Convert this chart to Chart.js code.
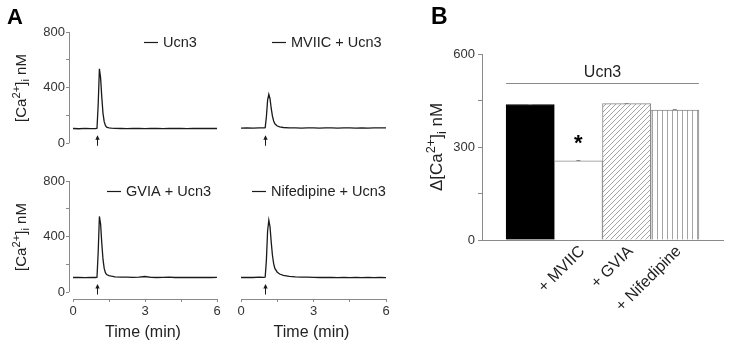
<!DOCTYPE html>
<html><head><meta charset="utf-8">
<script src="https://cdn.jsdelivr.net/npm/chart.js@4.4.0/dist/chart.umd.min.js"></script>
<style>
html,body{margin:0;padding:0;background:#fff;}
#wrap{position:relative;width:729px;height:346px;overflow:hidden;font-family:'Liberation Sans',Arial,sans-serif;}
canvas{position:absolute;left:0;top:0;}
.lbl{position:absolute;font-weight:bold;color:#000;line-height:1;}
.yt{position:absolute;white-space:nowrap;color:#222;transform:translate(-50%,-50%) rotate(-90deg);line-height:1;}
.yt sup{font-size:0.75em;vertical-align:0.5em;line-height:0;}
.yt sub{font-size:0.72em;vertical-align:-0.35em;line-height:0;}
</style></head>
<body><div id="wrap">
<canvas id="cTL" width="729" height="346"></canvas>
<canvas id="cTR" width="729" height="346"></canvas>
<canvas id="cBL" width="729" height="346"></canvas>
<canvas id="cBR" width="729" height="346"></canvas>
<canvas id="cB" width="729" height="346"></canvas>
<div class="lbl" style="left:7px;top:6px;font-size:22px;">A</div>
<div class="lbl" style="left:431px;top:5px;font-size:23px;">B</div>
<div class="yt" style="left:20px;top:88px;font-size:15px;">[Ca<sup>2+</sup>]<sub>i</sub> nM</div>
<div class="yt" style="left:20px;top:237px;font-size:15px;">[Ca<sup>2+</sup>]<sub>i</sub> nM</div>
<div class="yt" style="left:436px;top:147px;font-size:17px;">&Delta;[Ca<sup>2+</sup>]<sub>i</sub> nM</div>
</div>
<script>
// ---------- Panel A data (time in min, [Ca2+]i in nM) ----------
const timeMin = [0,0.25,0.5,0.75,0.95,1.0,1.05,1.1,1.15,1.2,1.25,1.3,1.35,1.4,1.5,1.6,1.75,2.0,2.25,2.5,2.75,3.0,3.25,3.5,3.75,4.0,4.25,4.5,4.75,5.0,5.25,5.5,5.75,6.0];
const traceUcn3 = [106,104,107,105,106,108,280,535,470,330,215,155,128,116,110,108,107,106,105,107,106,105,106,107,105,106,107,106,105,106,107,106,107,106];
const traceMVIIC = [108,110,109,111,110,112,190,310,352,320,250,195,160,140,124,117,113,111,110,109,111,110,109,110,111,109,110,111,109,110,109,111,110,111];
const traceGVIA = [105,106,104,106,105,107,290,545,490,350,235,170,140,126,118,114,110,108,107,106,107,112,106,105,106,107,105,106,105,106,105,106,105,106];
const traceNif = [105,106,105,107,106,108,230,440,518,470,360,265,205,170,143,130,120,113,110,108,107,106,105,106,105,104,105,104,105,104,105,104,105,104];
const seriesNames = ['Ucn3','MVIIC + Ucn3','GVIA + Ucn3','Nifedipine + Ucn3'];
const stimTime = 1.0;
const xTicksA = [0,1.5,3,4.5,6];
const xLabelsA = [0,3,6];
const yTicksA = [0,200,400,600,800];
const yLabelsA = [0,400,800];

// ---------- Panel B data ----------
const barCategories = ['', '+ MVIIC', '+ GVIA', '+ Nifedipine'];
const barValues = [437, 255, 440, 419];
const barErrors = [3, 3, 3, 3];
const barSignif = ['', '*', '', ''];
const groupLabel = 'Ucn3';
const yTicksB = [0,150,300,450,600];
const yLabelsB = [0,300,600];

Chart.defaults.font.family = "'Liberation Sans', Arial, sans-serif";
Chart.defaults.animation = false;
Chart.defaults.devicePixelRatio = 1;
Chart.defaults.plugins.legend.display = false;
Chart.defaults.plugins.tooltip.enabled = false;

const AXIS = '#8a8a8a', TXT = '#333', INK = '#1a1a1a';

const overlay = {
  id: 'overlay',
  afterDatasetsDraw(chart, args, o) {
    const ctx = chart.ctx, xs = chart.scales.x, ys = chart.scales.y, ca = chart.chartArea;
    ctx.save();
    ctx.strokeStyle = AXIS; ctx.lineWidth = 1;
    if (o.yAxis) {
      const x = Math.round(ca.left) + 0.5;
      ctx.beginPath(); ctx.moveTo(x, ys.getPixelForValue(yTicksA[yTicksA.length-1])); ctx.lineTo(x, ys.getPixelForValue(0)); ctx.stroke();
    }
    if (o.xAxis) {
      const y = Math.round(ca.bottom) + 0.5;
      ctx.beginPath(); ctx.moveTo(xs.getPixelForValue(0), y); ctx.lineTo(xs.getPixelForValue(6), y); ctx.stroke();
    }
    if (o.legend) {
      ctx.strokeStyle = INK; ctx.lineWidth = 1.2;
      ctx.beginPath(); ctx.moveTo(o.legend.x, o.legend.y); ctx.lineTo(o.legend.x + 14, o.legend.y); ctx.stroke();
      ctx.fillStyle = '#222'; ctx.font = "14.5px 'Liberation Sans', Arial, sans-serif";
      ctx.textBaseline = 'middle'; ctx.textAlign = 'left';
      ctx.fillText(chart.data.datasets[0].label, o.legend.x + 19, o.legend.y);
    }
    if (o.arrow) {
      const x = Math.round(xs.getPixelForValue(stimTime)) + 0.5;
      const yTip = ys.getPixelForValue(58), yTail = ys.getPixelForValue(-18);
      ctx.strokeStyle = INK; ctx.fillStyle = INK; ctx.lineWidth = 1;
      ctx.beginPath(); ctx.moveTo(x, yTail); ctx.lineTo(x, yTip + 3); ctx.stroke();
      ctx.beginPath(); ctx.moveTo(x, yTip); ctx.lineTo(x - 2.2, yTip + 4.5); ctx.lineTo(x + 2.2, yTip + 4.5); ctx.closePath(); ctx.fill();
    }
    if (o.bars) {
      ctx.strokeStyle = '#888'; ctx.lineWidth = 1;
      barValues.forEach((v, i) => {
        const x = xs.getPixelForValue(i + 1);
        const yT = Math.round(ys.getPixelForValue(v + barErrors[i])) + 0.5;
        const yB = ys.getPixelForValue(v);
        ctx.beginPath(); ctx.moveTo(x, yB); ctx.lineTo(x, yT); ctx.moveTo(x - 2, yT); ctx.lineTo(x + 2, yT); ctx.stroke();
        if (barSignif[i]) {
          ctx.fillStyle = '#000'; ctx.font = "bold 22px 'Liberation Sans', Arial, sans-serif";
          ctx.textAlign = 'center'; ctx.textBaseline = 'middle';
          ctx.fillText(barSignif[i], x, yB - 17);
        }
      });
      const xl = xs.getPixelForValue(0.5), xr = xs.getPixelForValue(barValues.length + 0.5);
      const yl = Math.round(ys.getPixelForValue(505)) + 0.5;
      ctx.strokeStyle = AXIS;
      ctx.beginPath(); ctx.moveTo(xl, yl); ctx.lineTo(xr, yl); ctx.stroke();
      ctx.fillStyle = '#222'; ctx.font = "16px 'Liberation Sans', Arial, sans-serif";
      ctx.textAlign = 'center'; ctx.textBaseline = 'middle';
      ctx.fillText(groupLabel, (xl + xr) / 2, ys.getPixelForValue(541));
    }
    ctx.restore();
  }
};

function traceChart(id, label, values, pad, opt) {
  const bottomRow = opt.bottom;
  return new Chart(document.getElementById(id), {
    type: 'line',
    data: { datasets: [{ label, data: timeMin.map((t, i) => ({ x: t, y: values[i] })),
      borderColor: INK, borderWidth: 1.3, pointRadius: 0, tension: 0, fill: false }] },
    options: {
      responsive: false, maintainAspectRatio: false,
      layout: { padding: pad },
      scales: {
        x: {
          type: 'linear', min: -0.1667, max: 6, display: bottomRow,
          grid: { display: true, drawOnChartArea: false, drawTicks: true, tickLength: 3, color: AXIS },
          border: { display: false },
          afterBuildTicks: s => { s.ticks = xTicksA.map(v => ({ value: v })); },
          afterFit: s => { if (s.options.display) s.height = 47; },
          ticks: { autoSkip: false, maxRotation: 0, padding: 2, color: TXT, font: { size: 13 },
            callback: v => xLabelsA.includes(v) ? String(v) : '' },
          title: { display: true, text: 'Time (min)', color: '#222', font: { size: 16 }, padding: { top: 2, bottom: 4 } }
        },
        y: {
          min: bottomRow ? -50 : -20, max: 800, display: opt.left,
          grid: { display: true, drawOnChartArea: false, drawTicks: true, tickLength: 3, color: AXIS },
          border: { display: false },
          afterBuildTicks: s => { s.ticks = yTicksA.map(v => ({ value: v })); },
          afterFit: s => { if (s.options.display) s.width = 69; },
          ticks: { padding: 1, color: TXT, font: { size: 13 },
            callback: v => yLabelsA.includes(v) ? String(v) : '' }
        }
      },
      plugins: { overlay: { yAxis: opt.left, xAxis: bottomRow, legend: opt.legend, arrow: true } }
    },
    plugins: [overlay]
  });
}

traceChart('cTL', seriesNames[0], traceUcn3, { left: 0, top: 32, right: 512, bottom: 200 }, { left: true, bottom: false, legend: { x: 144, y: 42.5 } });
traceChart('cTR', seriesNames[1], traceMVIIC, { left: 237, top: 32, right: 343, bottom: 200 }, { left: false, bottom: false, legend: { x: 272, y: 42.5 } });
traceChart('cBL', seriesNames[2], traceGVIA, { left: 0, top: 181, right: 512, bottom: 0 }, { left: true, bottom: true, legend: { x: 107, y: 191.5 } });
traceChart('cBR', seriesNames[3], traceNif, { left: 237, top: 181, right: 343, bottom: 0 }, { left: false, bottom: true, legend: { x: 252, y: 191.5 } });

// hatch patterns
function makePattern(kind) {
  const c = document.createElement('canvas');
  const s = 5; c.width = s; c.height = s;
  const g = c.getContext('2d');
  g.fillStyle = '#fff'; g.fillRect(0, 0, s, s);
  g.strokeStyle = '#9a9a9a'; g.lineWidth = 0.9;
  g.beginPath();
  if (kind === 'diag') {
    g.moveTo(0, s); g.lineTo(s, 0);
    g.moveTo(-1, 1); g.lineTo(1, -1);
    g.moveTo(s - 1, s + 1); g.lineTo(s + 1, s - 1);
  } else {
    g.moveTo(2.5, 0); g.lineTo(2.5, s);
  }
  g.stroke();
  return g.createPattern(c, 'repeat');
}

new Chart(document.getElementById('cB'), {
  type: 'bar',
  data: { datasets: [{ label: groupLabel,
    data: barValues.map((v, i) => ({ x: i + 1, y: v })),
    backgroundColor: ['#000', '#fff', makePattern('diag'), makePattern('vert')],
    borderColor: ['#000', '#8a8a8a', '#8a8a8a', '#8a8a8a'],
    borderWidth: 1, barPercentage: 1, categoryPercentage: 1 }] },
  options: {
    responsive: false, maintainAspectRatio: false,
    layout: { padding: { left: 440, top: 54, right: 6, bottom: 0 } },
    scales: {
      x: {
        type: 'linear', min: 0, max: 5, offset: false,
        grid: { display: false },
        border: { display: true, color: AXIS },
        afterBuildTicks: s => { s.ticks = barCategories.map((c, i) => ({ value: i + 1 })); },
        afterFit: s => { s.height = 106; },
        ticks: { autoSkip: false, minRotation: 45, maxRotation: 45, padding: -6, labelOffset: 4, color: '#222', font: { size: 16 },
          callback: v => barCategories[v - 1] || '' }
      },
      y: {
        min: 0, max: 600,
        grid: { display: true, drawOnChartArea: false, drawTicks: true, tickLength: 4, color: AXIS },
        border: { display: true, color: AXIS },
        afterBuildTicks: s => { s.ticks = yTicksB.map(v => ({ value: v })); },
        afterFit: s => { s.width = 42; },
        ticks: { padding: 3, color: TXT, font: { size: 13 },
          callback: v => yLabelsB.includes(v) ? String(v) : '' }
      }
    },
    plugins: { overlay: { bars: true } }
  },
  plugins: [overlay]
});
</script>
</body></html>
